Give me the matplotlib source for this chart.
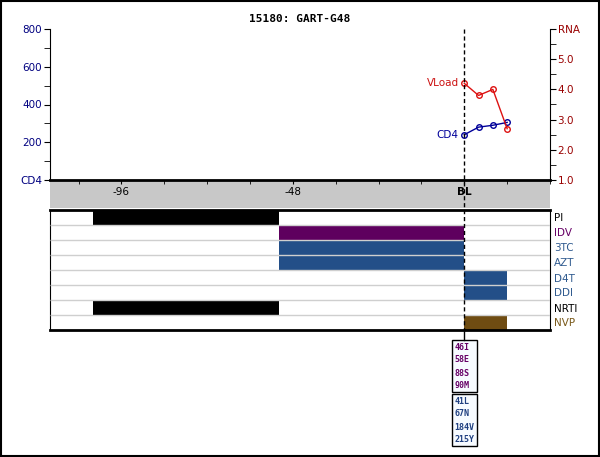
import matplotlib
matplotlib.use("Agg")
import matplotlib.pyplot as plt
from matplotlib.patches import Rectangle
from matplotlib.lines import Line2D
from matplotlib.transforms import blended_transform_factory

# weeks relative to baseline
weeks = [0, 4, 8, 12]
cd4 = [240, 280, 290, 305]
vload = [4.2, 3.8, 4.0, 2.7]

drugs = ["PI", "IDV", "3TC", "AZT", "D4T", "DDI", "NRTI", "NVP"]
drug_start = [-104, -52, -52, -52, 0, 0, -104, 0]
drug_end = [-52, 0, 0, 0, 12, 12, -52, 12]
drug_colors = ["#000000", "#5e005e", "#234f88", "#234f88",
               "#234f88", "#234f88", "#000000", "#6f4c12"]
label_colors = ["#000000", "#660066", "#2f5a8f", "#2f5a8f",
                "#2f5a8f", "#2f5a8f", "#000000", "#7a5a1a"]

pi_mutations = ["46I", "58E", "88S", "90M"]
rt_mutations = ["41L", "67N", "184V", "215Y"]

W, H = 600, 457
XMIN, XMAX = -116, 24


def fy(px):
    return 1 - px / H


fig = plt.figure(figsize=(W / 100, H / 100), dpi=100)

# outer frame
fig.patches.append(Rectangle((0.0015, 0.002), 0.996, 0.995, transform=fig.transFigure,
                             fill=False, edgecolor="black", lw=1.5, zorder=5))
# gray band behind x tick labels
fig.patches.append(Rectangle((50 / W, fy(208)), 500 / W, 27 / H, transform=fig.transFigure,
                             facecolor="#c8c8c8", edgecolor="none", zorder=-1))

fig.text(0.5, fy(19), "15180: GART-G48", ha="center", va="center",
         family="DejaVu Sans Mono", fontweight="bold", fontsize=8)

# --- top panel: CD4 / viral load
ax1 = fig.add_axes([50 / W, fy(180), 500 / W, 151 / H])
ax1.set_xlim(XMIN, XMAX)
ax1.set_ylim(0, 800)
ax1.spines["top"].set_visible(False)
ax1.spines["right"].set_visible(False)
ax1.spines["bottom"].set_linewidth(2)
ax1.set_yticks([0, 200, 400, 600, 800])
ax1.set_yticklabels(["CD4", "200", "400", "600", "800"])
ax1.set_yticks([100, 300, 500, 700], minor=True)
ax1.tick_params(axis="y", which="both", colors="black", labelcolor="#000080",
                labelsize=7.5, length=4, pad=1.5)
ax1.set_xticks([-96, -48, 0])
ax1.set_xticklabels(["-96", "-48", "BL"])
ax1.set_xticks([-108, -84, -72, -60, -36, -24, -12, 12, 24], minor=True)
ax1.tick_params(axis="x", which="both", length=3, labelsize=7.5, pad=2)
ax1.get_xticklabels()[2].set_fontweight("bold")

ax1r = ax1.twinx()
ax1r.set_ylim(1, 6)
ax1r.spines["top"].set_visible(False)
ax1r.spines["left"].set_visible(False)
ax1r.spines["bottom"].set_visible(False)
ax1r.set_yticks([1, 2, 3, 4, 5, 6])
ax1r.set_yticklabels(["1.0", "2.0", "3.0", "4.0", "5.0", "RNA"])
ax1r.set_yticks([1.5, 2.5, 3.5, 4.5, 5.5], minor=True)
ax1r.tick_params(axis="y", which="both", labelcolor="#990000",
                 labelsize=7.5, length=4, pad=1.5)

ax1.plot(weeks, cd4, color="#000099", lw=1, marker="o", ms=4,
         mfc="none", mew=1, zorder=3)
ax1r.plot(weeks, vload, color="#dd1111", lw=1, marker="o", ms=4,
          mfc="none", mew=1, zorder=3)
ax1.annotate("CD4", (weeks[0], cd4[0]), xytext=(-4, 0), textcoords="offset points",
             ha="right", va="center", color="#000099", fontsize=7.5)
ax1r.annotate("VLoad", (weeks[0], vload[0]), xytext=(-4, 0), textcoords="offset points",
              ha="right", va="center", color="#cc1111", fontsize=7.5)

# --- treatment panel
ax2 = fig.add_axes([50 / W, fy(330), 500 / W, 120 / H])
ax2.set_xlim(XMIN, XMAX)
ax2.set_ylim(len(drugs), 0)
rows = [i + 0.5 for i in range(len(drugs))]
ax2.barh(rows, [e - s for s, e in zip(drug_start, drug_end)], left=drug_start,
         height=1, color=drug_colors, zorder=2)
ax2.hlines(range(1, len(drugs)), XMIN, XMAX, color="#cfcfcf", lw=1, zorder=3)
ax2.set_xticks([])
ax2.yaxis.tick_right()
ax2.set_yticks(rows)
ax2.set_yticklabels(drugs)
ax2.tick_params(axis="y", length=0, pad=3, labelsize=7.5)
for lab, c in zip(ax2.get_yticklabels(), label_colors):
    lab.set_color(c)
for side in ["top", "bottom"]:
    ax2.spines[side].set_linewidth(2)

# baseline marker line through both panels
tr = blended_transform_factory(ax1.transData, fig.transFigure)
fig.add_artist(Line2D([0, 0], [fy(29), fy(330)], transform=tr, color="black",
                      lw=1, linestyle=(0, (3, 2)), zorder=6))
fig.add_artist(Line2D([0, 0], [fy(330), fy(340)], transform=tr, color="black",
                      lw=1, zorder=6))

# mutation boxes below baseline
bl_px = ax2.transData.transform((0, 0))[0]
bx = (bl_px - 12) / W
bw = 25 / W
for i, (muts, col) in enumerate([(pi_mutations, "#660066"), (rt_mutations, "#1f3f80")]):
    top = 340 + i * 54
    fig.patches.append(Rectangle((bx, fy(top + 52)), bw, 52 / H, transform=fig.transFigure,
                                 facecolor="#f7fbff", edgecolor="black", lw=1, zorder=4))
    for j, m in enumerate(muts):
        fig.text(bx + 2 / W, fy(top + 7 + j * 13), m, ha="left", va="center",
                 family="DejaVu Sans Mono", fontsize=6, fontweight="bold",
                 color=col, zorder=7)

fig.savefig("out.png", dpi=100)
